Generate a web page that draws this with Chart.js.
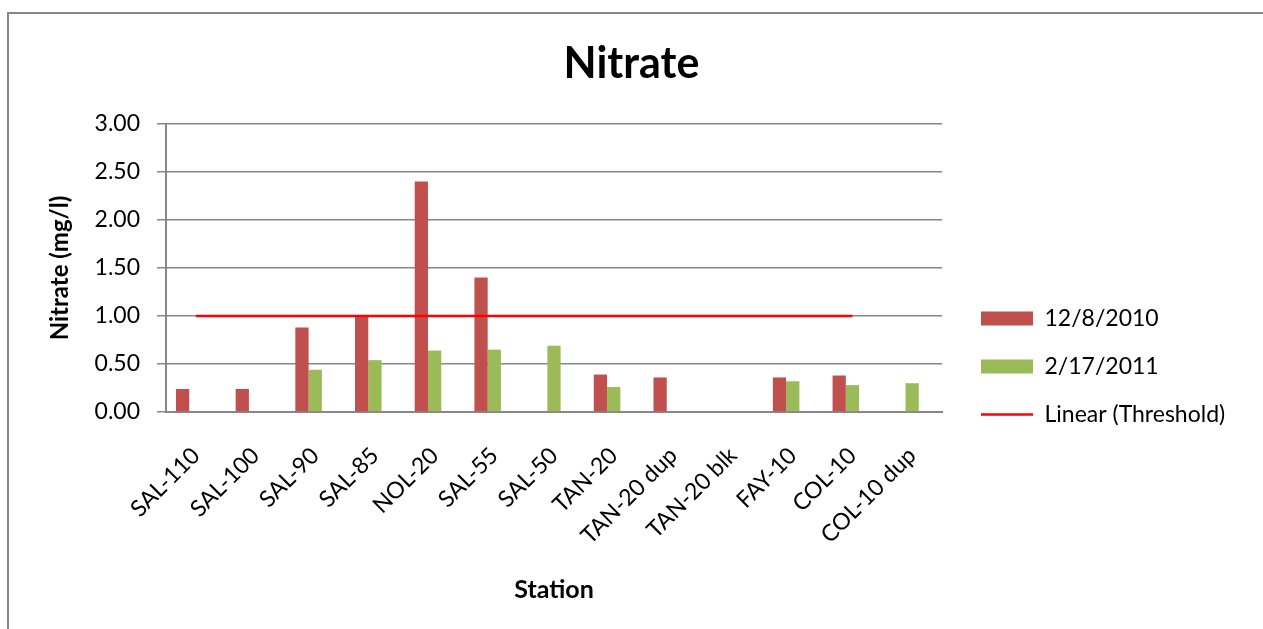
<!DOCTYPE html>
<html>
<head>
<meta charset="utf-8">
<title>Nitrate</title>
<script src="https://cdn.jsdelivr.net/npm/chart.js@4/dist/chart.umd.min.js"></script>
<style>
  html, body { margin: 0; padding: 0; background: #fff; overflow: hidden; }
  canvas { display: block; }
</style>
</head>
<body>
<canvas id="chart" width="1263" height="629"></canvas>
<script>
// Sampling stations along the x axis
const stations = ['SAL-110', 'SAL-100', 'SAL-90', 'SAL-85', 'NOL-20', 'SAL-55', 'SAL-50',
                  'TAN-20', 'TAN-20 dup', 'TAN-20 blk', 'FAY-10', 'COL-10', 'COL-10 dup'];

// Nitrate results (mg/l) per sampling date; null = no result
const dec2010 = [0.24, 0.24, 0.88, 1.00, 2.40, 1.40, null, 0.39, 0.36, null, 0.36, 0.38, null];
const feb2011 = [null, null, 0.44, 0.54, 0.64, 0.65, 0.69, 0.26, null, null, 0.32, 0.28, 0.30];

// Threshold series (kept as an unfilled bar slot) and its linear trend line
const threshold = [1, 1, 1, 1, 1, 1, 1, 1, 1, 1, 1, 1, null];

// Value axis ticks
const yTicks = [0, 0.5, 1, 1.5, 2, 2.5, 3];

const GRID = '#878787';
const FONT = 'Lato, "Open Sans", sans-serif';
Chart.defaults.font.family = FONT;
Chart.defaults.color = '#000';

// Outer frame of the chart
const framePlugin = {
  id: 'frame',
  beforeDraw(chart) {
    const ctx = chart.ctx;
    ctx.save();
    ctx.strokeStyle = GRID;
    ctx.lineWidth = 2;
    ctx.strokeRect(8, 13, chart.width + 40, chart.height + 40);
    ctx.restore();
  }
};

// Fixed legend width and placement to the right of the plot
const LEGEND_W = 321;
const legendPlacement = {
  id: 'legendPlacement',
  beforeLayout(chart) {
    const lg = chart.legend;
    if (lg && !lg._fixedWidth) {
      const fit = lg.fit;
      lg.fit = function () { fit.call(this); this.width = LEGEND_W; };
      lg._fixedWidth = true;
    }
  },
  afterLayout(chart) {
    const lg = chart.legend;
    lg.left += 14; lg.right += 14;
    lg.top += 52; lg.bottom += 52;
  }
};

const legendRank = { '12/8/2010': 0, '2/17/2011': 1, 'Linear (Threshold)': 2 };

new Chart(document.getElementById('chart'), {
  data: {
    labels: stations,
    datasets: [
      {
        type: 'bar', label: '12/8/2010', data: dec2010,
        backgroundColor: '#C0504D', borderWidth: 0, pointStyle: 'rect',
        categoryPercentage: 3 / 4.5, barPercentage: 1
      },
      {
        type: 'bar', label: '2/17/2011', data: feb2011,
        backgroundColor: '#9BBB59', borderWidth: 0, pointStyle: 'rect',
        categoryPercentage: 3 / 4.5, barPercentage: 1
      },
      {
        type: 'bar', label: 'Threshold', data: threshold,
        backgroundColor: 'rgba(0,0,0,0)', borderWidth: 0,
        categoryPercentage: 3 / 4.5, barPercentage: 1
      },
      {
        type: 'line', label: 'Linear (Threshold)', data: threshold,
        borderColor: '#FF0000', borderWidth: 2.5, pointRadius: 0, pointHoverRadius: 0,
        pointStyle: 'line', pointBorderWidth: 2.5, pointBorderColor: '#FF0000',
        fill: false, tension: 0, order: -1
      }
    ]
  },
  options: {
    responsive: false,
    animation: false,
    devicePixelRatio: 1,
    layout: { padding: 0 },
    plugins: {
      tooltip: { enabled: false },
      title: {
        display: true, text: 'Nitrate', color: '#000',
        font: { family: FONT, size: 43, weight: 'bold' },
        padding: { top: 38, bottom: 34.4 }
      },
      legend: {
        position: 'right',
        align: 'center',
        labels: {
          usePointStyle: true,
          pointStyleWidth: 52,
          boxWidth: 52,
          boxHeight: 14,
          padding: 25,
          color: '#000',
          font: { family: FONT, size: 23 },
          filter: (item) => item.text !== 'Threshold',
          sort: (a, b) => legendRank[a.text] - legendRank[b.text]
        }
      }
    },
    scales: {
      x: {
        grid: { display: false, drawTicks: false },
        border: { display: true, color: GRID, width: 2 },
        ticks: {
          autoSkip: false, minRotation: 45, maxRotation: 45, padding: 30,
          color: '#000', font: { family: FONT, size: 23 }
        },
        title: {
          display: true, text: 'Station', color: '#000',
          font: { family: FONT, size: 25, weight: 'bold' },
          padding: { top: 0, bottom: 24 }
        },
        afterFit(scale) { scale.height = 217; }
      },
      y: {
        min: 0, max: 3,
        afterBuildTicks(scale) { scale.ticks = yTicks.map(v => ({ value: v })); },
        ticks: {
          padding: 17, color: '#000', font: { family: FONT, size: 23 },
          callback: (v) => Number(v).toFixed(2)
        },
        grid: { color: GRID, lineWidth: 1.5, drawTicks: true, tickLength: 9 },
        border: { display: true, color: GRID, width: 2 },
        title: {
          display: true, text: 'Nitrate (mg/l)', color: '#000',
          font: { family: FONT, size: 24, weight: 'bold' },
          padding: { top: 45.6, bottom: 0 }
        },
        afterFit(scale) { scale.width = 166; }
      }
    }
  },
  plugins: [framePlugin, legendPlacement]
});
</script>
</body>
</html>
